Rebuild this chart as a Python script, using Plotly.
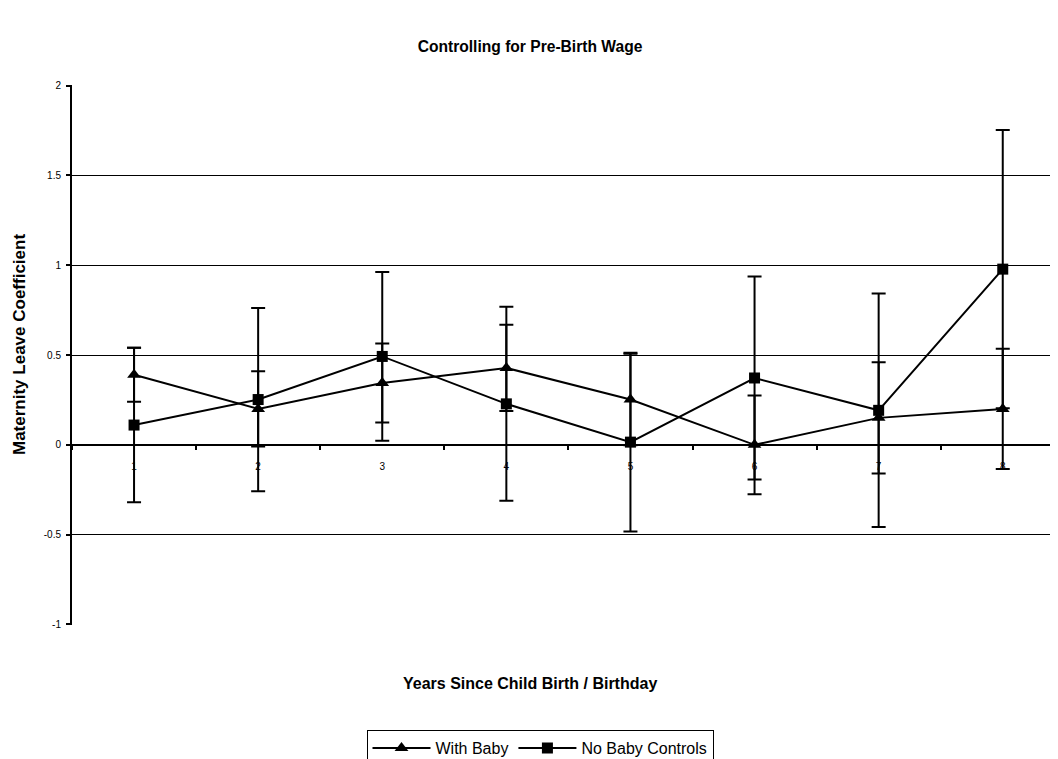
import plotly.graph_objects as go

years = ["1", "2", "3", "4", "5", "6", "7", "8"]
with_baby = [0.39, 0.20, 0.344, 0.428, 0.252, 0.0, 0.15, 0.20]
with_baby_err = [0.15, 0.21, 0.22, 0.24, 0.255, 0.275, 0.31, 0.335]
no_baby = [0.11, 0.252, 0.492, 0.228, 0.015, 0.372, 0.192, 0.978]
no_baby_err = [0.43, 0.51, 0.47, 0.54, 0.497, 0.565, 0.65, 0.775]
y_ticks = [-1, -0.5, 0, 0.5, 1, 1.5, 2]
y_tick_text = ["-1", "-0.5", "0", "0.5", "1", "1.5", "2"]

FONT = "Liberation Sans, Arial, sans-serif"
W, H = 1058, 759
OFF = 8  # page body margin offsets the figure inside the window

# target geometry in window pixels
PL, PT, PB = 72, 85, 625
PW = W - OFF - PL + 8  # plot extends slightly past the window edge
PH = PB - PT

fig = go.Figure()
fig.add_trace(go.Scatter(
    x=years, y=with_baby, name="With Baby", mode="lines+markers",
    line=dict(color="black", width=2),
    marker=dict(symbol="triangle-up", size=12, color="black"),
    error_y=dict(type="data", array=with_baby_err, visible=True,
                 color="black", thickness=2, width=7),
))
fig.add_trace(go.Scatter(
    x=years, y=no_baby, name="No Baby Controls", mode="lines+markers",
    line=dict(color="black", width=2),
    marker=dict(symbol="square", size=11, color="black"),
    error_y=dict(type="data", array=no_baby_err, visible=True,
                 color="black", thickness=2, width=7),
))

l_m = PL - OFF
t_m = PT - OFF
b_m = H - (PB - OFF)
r_m = W - l_m - PW
cat_w = 124.1

fig.update_layout(
    width=W, height=H,
    margin=dict(l=l_m, r=r_m, t=t_m, b=b_m, autoexpand=False),
    paper_bgcolor="white", plot_bgcolor="white",
    font=dict(family=FONT, color="black", size=10),
    title=dict(text="<b>Controlling for Pre-Birth Wage</b>",
               x=(530 - OFF) / W, xref="container", xanchor="center",
               y=1 - (47 - OFF) / H, yref="container", yanchor="middle",
               font=dict(size=15.6, family=FONT, color="black")),
    showlegend=True,
    legend=dict(orientation="h", x=(540 - OFF - l_m) / PW, xanchor="center",
                y=-(730 - PB) / PH, yanchor="top",
                bordercolor="black", borderwidth=1,
                font=dict(size=16, family=FONT, color="black"),
                itemwidth=58, tracegroupgap=0),
    xaxis=dict(type="category", categoryorder="array", categoryarray=years,
               range=[-0.5, -0.5 + PW / cat_w], anchor="free", position=1 / 3,
               showline=True, linecolor="black", linewidth=2,
               ticks="outside", ticklen=4, tickwidth=2, tickcolor="black",
               tickson="boundaries", showgrid=False, zeroline=False,
               ticklabelstandoff=12, automargin=False,
               tickfont=dict(size=10, family=FONT, color="black")),
    yaxis=dict(range=[-1.003, 2.003], tickvals=y_ticks, ticktext=y_tick_text,
               showline=True, linecolor="black", linewidth=2,
               ticks="outside", ticklen=4, tickwidth=2, tickcolor="black",
               showgrid=True, gridcolor="black", gridwidth=1,
               zeroline=False, automargin=False, ticklabelstandoff=3,
               tickfont=dict(size=10, family=FONT, color="black")),
)

fig.add_annotation(text="<b>Maternity Leave Coefficient</b>",
                   x=(19 - PL) / PW, xref="paper", xanchor="center",
                   y=(PB - 345) / PH, yref="paper", yanchor="middle",
                   textangle=-90, showarrow=False,
                   font=dict(size=17, family=FONT, color="black"))
fig.add_annotation(text="<b>Years Since Child Birth / Birthday</b>",
                   x=(530 - PL) / PW, xref="paper", xanchor="center",
                   y=-(683 - PB) / PH, yref="paper", yanchor="middle",
                   showarrow=False,
                   font=dict(size=16, family=FONT, color="black"))

fig.write_html("out.html")
